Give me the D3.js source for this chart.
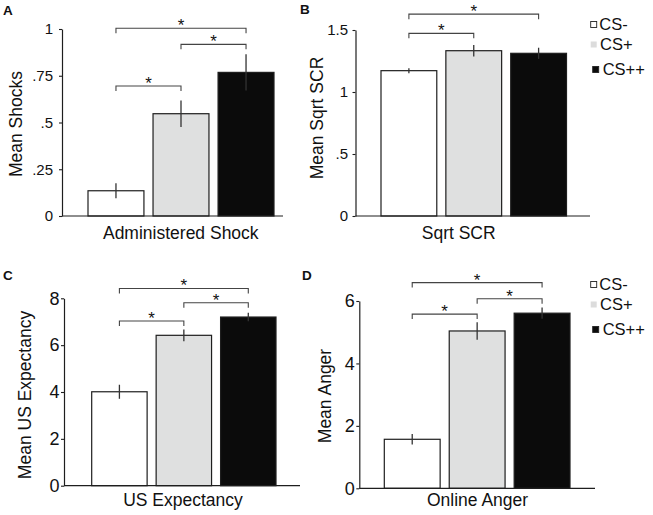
<!DOCTYPE html>
<html>
<head>
<meta charset="utf-8">
<script src="https://cdn.jsdelivr.net/npm/d3@7"></script>
<style>
  html, body { margin: 0; padding: 0; background: #fff; }
  svg { display: block; font-family: "Liberation Sans", Arial, Helvetica, sans-serif; }
</style>
</head>
<body>
<svg id="chart" width="653" height="515"></svg>
<script>
// ---------------- DATA ----------------
const groups = ["CS-", "CS+", "CS++"];
const panelLetters = ["A", "B", "C", "D"];
const xLabels = ["Administered Shock", "Sqrt SCR", "US Expectancy", "Online Anger"];
const yLabels = ["Mean Shocks", "Mean Sqrt SCR", "Mean US Expectancy", "Mean Anger"];

const shockMeans = [0.135, 0.547, 0.768];
const shockErr   = [0.040, 0.071, 0.097];
const scrMeans   = [1.172, 1.333, 1.312];
const scrErr     = [0.020, 0.047, 0.045];
const expMeans   = [4.01, 6.42, 7.20];
const expErr     = [0.30, 0.25, 0.18];
const angerMeans = [1.57, 5.04, 5.61];
const angerErr   = [0.17, 0.28, 0.18];

const shockTicks = [0, 0.25, 0.5, 0.75, 1];
const shockTickLabels = ["0", ".25", ".5", ".75", "1"];
const scrTicks = [0, 0.5, 1, 1.5];
const scrTickLabels = ["0", ".5", "1", "1.5"];
const expTicks = [0, 2, 4, 6, 8];
const expTickLabels = ["0", "2", "4", "6", "8"];
const angerTicks = [0, 2, 4, 6];
const angerTickLabels = ["0", "2", "4", "6"];

// significance brackets: [fromGroup, toGroup, level in data units]
const shockBrackets = [[0, 1, 0.695], [1, 2, 0.918], [0, 2, 1.004]];
const scrBrackets   = [[0, 1, 1.473], [0, 2, 1.628]];
const expBrackets   = [[0, 1, 7.03], [1, 2, 7.81], [0, 2, 8.42]];
const angerBrackets = [[0, 1, 5.58], [1, 2, 6.07], [0, 2, 6.59]];

const yMax = [1, 1.5, 8, 6];

// ---------------- STYLE / LAYOUT ----------------
const fills = ["#ffffff", "#dfe0e0", "#0b0b0b"];
const legendFills = ["#ffffff", "#dcdcdc", "#0b0b0b"];
const ink = "#1e1e1e";

const layout = [
  {axisX: 62,    y0: 216,   yTop: 29,    bx0: 88,    bx1: 274,   baseEnd: 283, pad: 6,   tf: 15, letter: [3, 15],   yLab: [21.5, 124], xLab: [180.8, 239.3], legend: null},
  {axisX: 355.5, y0: 216,   yTop: 30,    bx0: 381,   bx1: 566.5, baseEnd: 590, pad: 4.5, tf: 15, letter: [300, 14], yLab: [323, 118],  xLab: [458.7, 239.3], legend: 0},
  {axisX: 64,    y0: 485.7, yTop: 298.3, bx0: 91.7,  bx1: 276,   baseEnd: 300, pad: 1.5, tf: 18, letter: [3, 280],  yLab: [30.8, 395], xLab: [183, 505.5],   legend: null},
  {axisX: 359.3, y0: 488.3, yTop: 301,   bx0: 384.3, bx1: 570,   baseEnd: 595, pad: 1.5, tf: 18, letter: [302, 280], yLab: [331, 396], xLab: [477.5, 505.5], legend: 260}
];

const panels = [
  {means: shockMeans, errs: shockErr, ticks: shockTicks, labels: shockTickLabels, brackets: shockBrackets},
  {means: scrMeans,   errs: scrErr,   ticks: scrTicks,   labels: scrTickLabels,   brackets: scrBrackets},
  {means: expMeans,   errs: expErr,   ticks: expTicks,   labels: expTickLabels,   brackets: expBrackets},
  {means: angerMeans, errs: angerErr, ticks: angerTicks, labels: angerTickLabels, brackets: angerBrackets}
];

const svg = d3.select("#chart");

panels.forEach((p, i) => {
  const L = layout[i];
  const g = svg.append("g");
  const y = d3.scaleLinear().domain([0, yMax[i]]).range([L.y0, L.yTop]);
  const x = d3.scaleBand().domain(groups).range([L.bx0, L.bx1]).paddingInner(0.14).paddingOuter(0);

  // panel letter
  g.append("text").attr("x", L.letter[0]).attr("y", L.letter[1])
    .attr("font-size", 13.5).attr("font-weight", "bold").attr("fill", "#111")
    .text(panelLetters[i]);

  // bars
  g.selectAll("rect.bar").data(p.means).join("rect")
    .attr("class", "bar")
    .attr("x", (d, k) => x(groups[k]))
    .attr("y", d => y(d))
    .attr("width", x.bandwidth())
    .attr("height", d => y(0) - y(d))
    .attr("fill", (d, k) => fills[k])
    .attr("stroke", ink).attr("stroke-width", 1.2);

  // error bars
  g.selectAll("line.err").data(p.means).join("line")
    .attr("class", "err")
    .attr("x1", (d, k) => x(groups[k]) + x.bandwidth() / 2)
    .attr("x2", (d, k) => x(groups[k]) + x.bandwidth() / 2)
    .attr("y1", (d, k) => y(d - p.errs[k]))
    .attr("y2", (d, k) => y(d + p.errs[k]))
    .attr("stroke", "#333").attr("stroke-width", 1.3);

  // x baseline
  g.append("line")
    .attr("x1", L.axisX).attr("x2", L.baseEnd)
    .attr("y1", y(0)).attr("y2", y(0))
    .attr("stroke", ink).attr("stroke-width", 1.2);

  // y axis
  const ax = d3.axisLeft(y).tickValues(p.ticks)
    .tickFormat((d, k) => p.labels[k]).tickSize(3).tickSizeOuter(0).tickPadding(L.pad);
  const axg = g.append("g").attr("transform", `translate(${L.axisX},0)`).call(ax);
  axg.select(".domain").attr("stroke", ink).attr("stroke-width", 1.2);
  axg.selectAll(".tick line").attr("stroke", ink).attr("stroke-width", 1.1);
  axg.selectAll(".tick text").attr("font-size", L.tf).attr("fill", "#111")
    .attr("font-family", "Liberation Sans, Arial, sans-serif");

  // brackets
  const cx = k => x(groups[k]) + x.bandwidth() / 2;
  p.brackets.forEach(b => {
    const yy = y(b[2]);
    g.append("path")
      .attr("d", `M${cx(b[0])},${yy + 5}V${yy}H${cx(b[1])}V${yy + 5}`)
      .attr("fill", "none").attr("stroke", "#444").attr("stroke-width", 1.1);
    g.append("text")
      .attr("x", (cx(b[0]) + cx(b[1])) / 2).attr("y", yy + 3)
      .attr("text-anchor", "middle").attr("font-size", 17).attr("fill", "#111")
      .text("*");
  });

  // axis titles
  g.append("text")
    .attr("transform", `translate(${L.yLab[0]},${L.yLab[1]}) rotate(-90)`)
    .attr("text-anchor", "middle").attr("font-size", 17.5).attr("fill", "#111")
    .text(yLabels[i]);
  g.append("text")
    .attr("x", L.xLab[0]).attr("y", L.xLab[1])
    .attr("text-anchor", "middle").attr("font-size", 17.5).attr("fill", "#111")
    .text(xLabels[i]);

  // legend
  if (L.legend !== null) {
    const off = L.legend;
    const rowsY = [24.5, 44.5, 69.5];
    const sqX = [590.7, 590.7, 592.7];
    const txX = [599.3, 600, 602.7];
    const lg = g.append("g");
    groups.forEach((name, k) => {
      lg.append("rect")
        .attr("x", sqX[k]).attr("y", off + rowsY[k] - 3)
        .attr("width", 6).attr("height", 6)
        .attr("fill", legendFills[k])
        .attr("stroke", k === 1 ? "none" : "#222").attr("stroke-width", 0.9);
      lg.append("text")
        .attr("x", txX[k]).attr("y", off + rowsY[k] + 5)
        .attr("font-size", 16.5).attr("fill", "#111")
        .text(name);
    });
  }
});
</script>
</body>
</html>
